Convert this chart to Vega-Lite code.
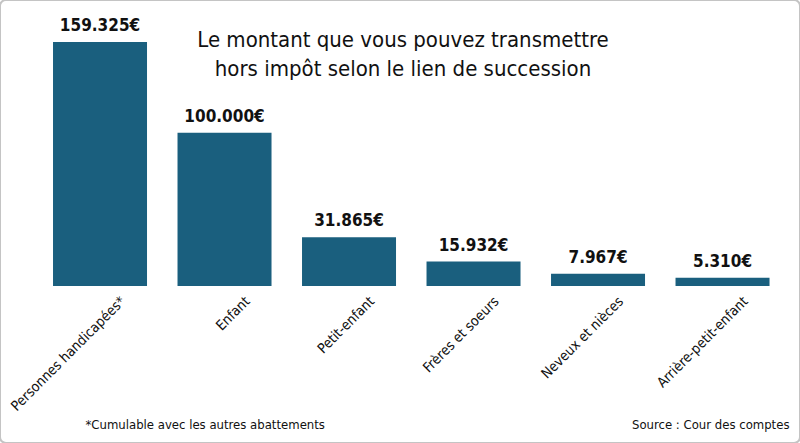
{
  "$schema": "https://vega.github.io/schema/vega-lite/v6.json",
  "width": 800,
  "height": 443,
  "padding": 0,
  "autosize": {"type": "none"},
  "background": "white",
  "config": {
    "view": {"stroke": "#c4c4c4", "strokeWidth": 2, "cornerRadius": 6},
    "font": "DejaVu Sans Condensed"
  },
  "title": {
    "text": ["Le montant que vous pouvez transmettre", "hors impôt selon le lien de succession"],
    "anchor": "middle",
    "frame": "group",
    "baseline": "bottom",
    "offset": -103,
    "dx": 3,
    "font": "DejaVu Sans Condensed",
    "fontSize": 22,
    "fontWeight": "normal",
    "lineHeight": 29,
    "color": "#111111"
  },
  "data": {
    "values": [
      {"lien": "Personnes handicapées*", "montant": 159325, "label": "159.325€"},
      {"lien": "Enfant", "montant": 100000, "label": "100.000€"},
      {"lien": "Petit-enfant", "montant": 31865, "label": "31.865€"},
      {"lien": "Frères et soeurs", "montant": 15932, "label": "15.932€"},
      {"lien": "Neveux et nièces", "montant": 7967, "label": "7.967€"},
      {"lien": "Arrière-petit-enfant", "montant": 5310, "label": "5.310€"}
    ]
  },
  "encoding": {
    "x": {
      "field": "lien",
      "type": "nominal",
      "sort": null,
      "scale": {"paddingInner": 0.245, "paddingOuter": 0.3353, "align": 0.635},
      "axis": {
        "labels": false,
        "ticks": false,
        "domain": false,
        "title": "*Cumulable avec les autres abattements",
        "titleX": 85,
        "titleY": -15,
        "titleAlign": "left",
        "titleAnchor": "start",
        "titleBaseline": "alphabetic",
        "titleFont": "DejaVu Sans Condensed",
        "titleFontSize": 13,
        "titleFontWeight": "normal",
        "titleColor": "#111111"
      }
    }
  },
  "layer": [
    {
      "mark": {"type": "bar", "color": "#1a5f7e"},
      "encoding": {
        "y": {
          "field": "montant",
          "type": "quantitative",
          "scale": {"domain": [-102518, 186757], "nice": false, "zero": false},
          "axis": {
            "orient": "right",
            "labels": false,
            "ticks": false,
            "domain": false,
            "grid": false,
            "title": "Source : Cour des comptes",
            "titleAngle": 0,
            "titleX": -11,
            "titleY": 428,
            "titleAlign": "right",
            "titleAnchor": "start",
            "titleBaseline": "alphabetic",
            "titleFont": "DejaVu Sans Condensed",
            "titleFontSize": 13,
            "titleFontWeight": "normal",
            "titleColor": "#111111"
          }
        },
        "y2": {"datum": 0}
      }
    },
    {
      "mark": {"type": "text", "baseline": "alphabetic", "dy": -11, "fontSize": 17, "fontWeight": "bold", "color": "#111111", "font": "DejaVu Sans Condensed"},
      "encoding": {
        "y": {"field": "montant", "type": "quantitative"},
        "text": {"field": "label"}
      }
    },
    {
      "mark": {"type": "text", "angle": -45, "align": "right", "baseline": "middle", "dx": 7, "dy": 26, "fontSize": 14, "color": "#111111", "font": "DejaVu Sans Condensed"},
      "encoding": {
        "y": {"datum": 0},
        "text": {"field": "lien"}
      }
    }
  ]
}
